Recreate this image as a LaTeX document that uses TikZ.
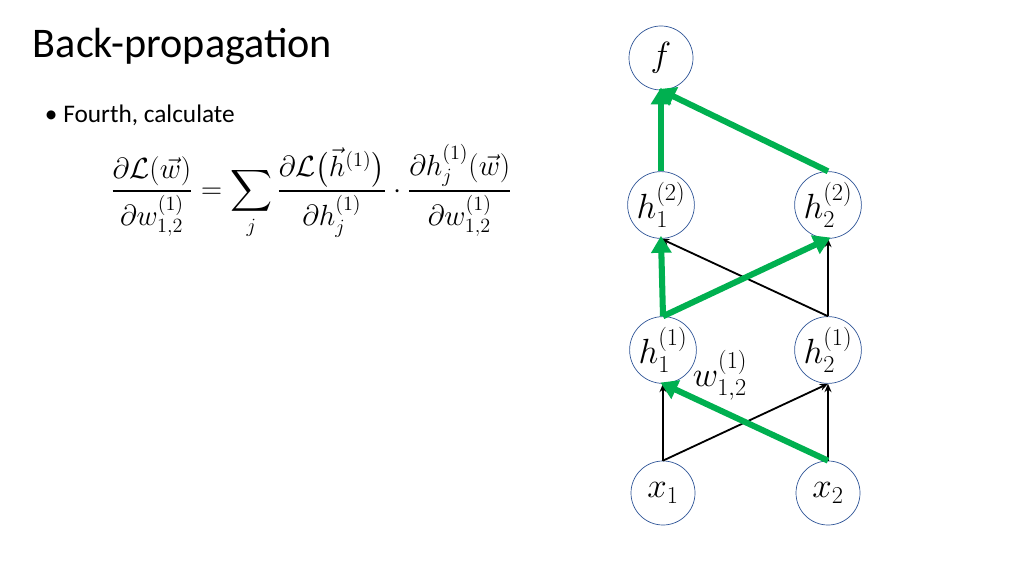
\documentclass[tikz,border=0pt]{standalone}
\usepackage{amsmath}
\usepackage{fontspec}
\setmainfont{Carlito}
\usetikzlibrary{positioning, arrows.meta}
\definecolor{bpgreen}{RGB}{0,176,80}
\definecolor{ringblue}{RGB}{47,85,151}
\tikzset{
  unit/.style={circle, draw=ringblue, line width=0.5pt, minimum size=1.6cm, inner sep=0pt, font=\fontsize{23}{25}\selectfont},
  fwd/.style={black, line width=1.3pt, -{Stealth[length=6pt,width=5pt]}},
  grad/.style={bpgreen, line width=4.3pt, -{Triangle[length=12pt,width=14pt]}, shorten >=-2pt}
}
\begin{document}
\begin{tikzpicture}[x=0.025cm, y=-0.025cm]
\useasboundingbox (0,0) rectangle (1024,576);
\node[anchor=west, font=\fontsize{30}{32}\selectfont] (title) at (28,46) {Back-propagation};
\node[anchor=west, font=\fontsize{18}{20}\selectfont] (item) at (40,115) {\textbullet\ Fourth, calculate};
\node[anchor=west, font=\fontsize{20}{24}\selectfont] (eq) at (106,192)
  {$\dfrac{\partial\mathcal{L}(\vec{w})}{\partial w_{1,2}^{(1)}}=\displaystyle\sum_j\frac{\partial\mathcal{L}\big(\vec{h}^{(1)}\big)}{\partial h_j^{(1)}}\cdot\frac{\partial h_j^{(1)}(\vec{w})}{\partial w_{1,2}^{(1)}}$};

\node[unit] (f) at (661,58) {$f$};
\node[unit] (h21) at (661,205) {$h_1^{(2)}$};
\node[unit] (h22) at (828,205) {$h_2^{(2)}$};
\node[unit] (h11) at (663,350) {$h_1^{(1)}$};
\node[unit] (h12) at (828,350) {$h_2^{(1)}$};
\node[unit] (x1) at (663,493) {$x_1$};
\node[unit] (x2) at (828,493) {$x_2$};
\node[font=\fontsize{23}{25}\selectfont] (w) at (720,375) {$w_{1,2}^{(1)}$};

\draw[fwd] (x1.north) -- (h11.south);
\draw[fwd] (x1.north) -- (h12.south);
\draw[fwd] (x2.north) -- (h12.south);
\draw[fwd] (h12.north) -- (h21.south);
\draw[fwd] (h12.north) -- (h22.south);
\draw[grad] (x2.north) -- (h11.south);
\draw[grad] (h11.north) -- (h21.south);
\draw[grad] (h11.north) -- (h22.south);
\draw[grad] (h21.north) -- (f.south);
\draw[grad] (h22.north) -- (f.south);
\end{tikzpicture}
\end{document}
